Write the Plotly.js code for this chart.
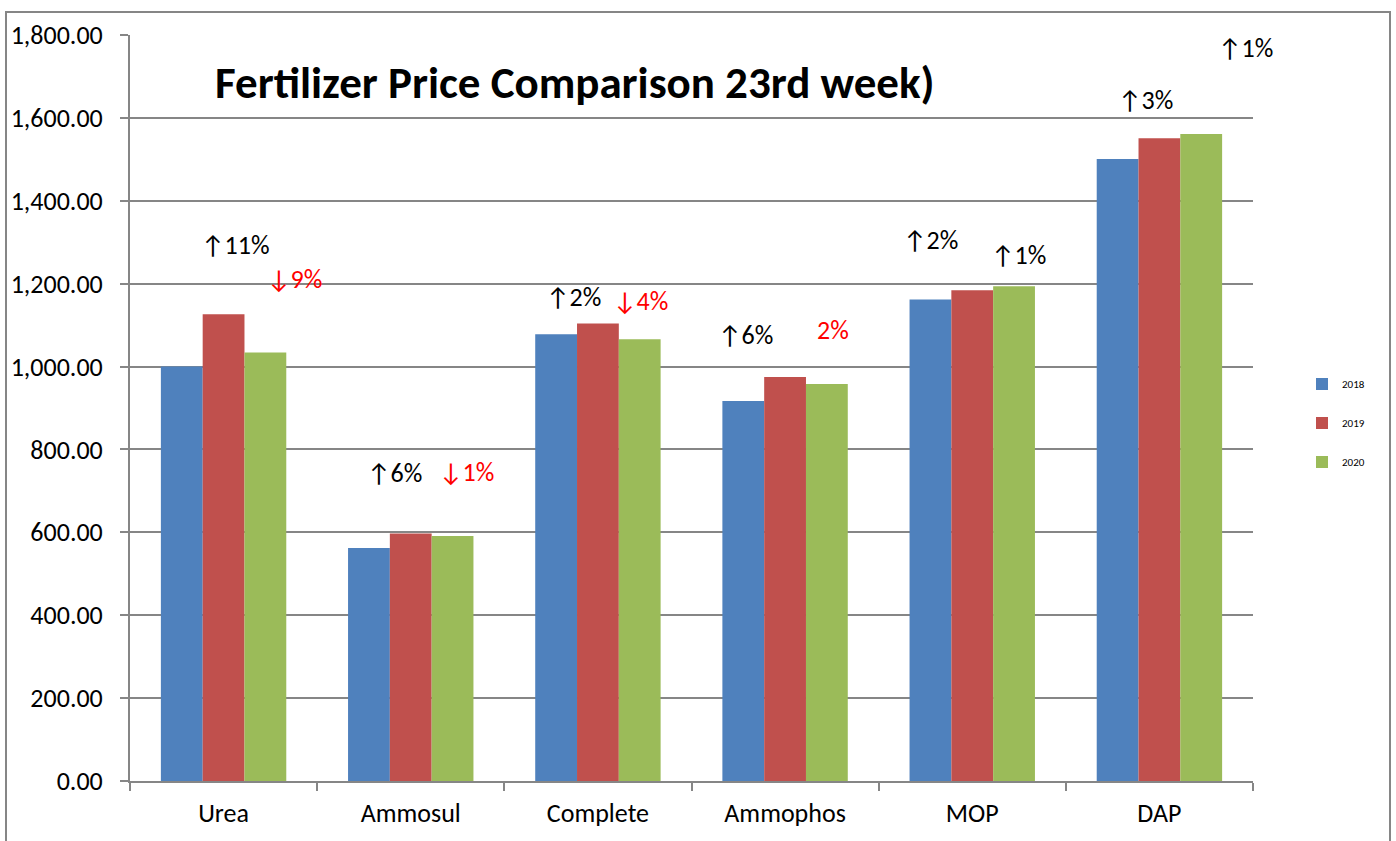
<!DOCTYPE html>
<html>
<head>
<meta charset="utf-8">
<script src="https://cdn.plot.ly/plotly-3.0.1.min.js"></script>
<style>html,body{margin:0;padding:0;background:#fff;}#chart{width:1396px;height:841px;}</style>
</head>
<body>
<div id="chart"></div>
<script>
var categories = ["Urea", "Ammosul", "Complete", "Ammophos", "MOP", "DAP"];
var seriesNames = ["2018", "2019", "2020"];
var values2018 = [1000, 562, 1078, 917, 1162, 1501];
var values2019 = [1126, 597, 1104, 975, 1184, 1551];
var values2020 = [1034, 591, 1066, 958, 1194, 1561];
var colors = ["#4F81BD", "#C0504D", "#9BBB59"];

var noteTexts = ["↑11%", "↓9%", "↑6%", "↓1%", "↑2%", "↓4%", "↑6%", "2%", "↑2%", "↑1%", "↑3%", "↑1%"];
var noteColors = ["black", "red", "black", "red", "black", "red", "black", "red", "black", "black", "black", "black"];
// pixel positions of note centres on the page
var notePx = [[235,245],[294,279],[394,473],[466,472],[573,297],[640,301],[745,335],[833,330],[930,240],[1018,255],[1145,100],[1245,48]];

var W = 1396, H = 841, L = 130, R = 143, T = 35, B = 60;
var pw = W - L - R, ph = H - T - B;
function px2x(p){ return (p - L) / pw; }
function px2y(p){ return (H - B - p) / ph; }

var font = "Carlito, Lato, 'Open Sans', sans-serif";
var allVals = [values2018, values2019, values2020];
var traces = allVals.map(function(v, i){
  return {
    type: "bar", x: categories, y: v, name: seriesNames[i],
    marker: {color: colors[i], line: {width: 0}},
    legendgroup: "g" + i,
    hoverinfo: "y"
  };
});

var annotations = noteTexts.map(function(t, i){
  return {
    xref: "paper", yref: "paper",
    x: px2x(notePx[i][0]), y: px2y(notePx[i][1]),
    xanchor: "center", yanchor: "middle",
    text: t, showarrow: false,
    font: {family: font, size: 26, color: noteColors[i]}
  };
});
annotations.push({
  xref: "paper", yref: "paper",
  x: px2x(575), y: px2y(82), xanchor: "center", yanchor: "middle",
  text: "<b>Fertilizer Price Comparison 23rd week)</b>", showarrow: false,
  font: {family: font, size: 45, color: "black"}
});

var layout = {
  width: W, height: H,
  margin: {l: L, r: R, t: T, b: B, pad: 0},
  paper_bgcolor: "#fff", plot_bgcolor: "#fff",
  font: {family: font, size: 26, color: "black"},
  barmode: "group", bargap: 0.33, bargroupgap: 0,
  showlegend: true,
  legend: {
    x: px2x(1302), y: px2y(423), xanchor: "left", yanchor: "middle",
    font: {family: font, size: 11, color: "black"},
    tracegroupgap: 20, itemwidth: 30, bgcolor: "rgba(0,0,0,0)"
  },
  xaxis: {
    type: "category", showgrid: false, showline: true, linecolor: "#868686", linewidth: 2,
    ticks: "outside", tickson: "boundaries", ticklen: 8, tickcolor: "#868686", tickwidth: 2,
    ticklabelstandoff: 8,
    tickfont: {family: font, size: 26, color: "black"}, fixedrange: true
  },
  yaxis: {
    range: [0, 1800], dtick: 200, tickformat: ",.2f",
    showgrid: true, gridcolor: "#868686", gridwidth: 2,
    showline: true, linecolor: "#868686", linewidth: 2,
    ticks: "outside", ticklen: 8, tickcolor: "#868686", tickwidth: 2,
    ticklabelstandoff: 12,
    tickfont: {family: font, size: 26, color: "black"}, zeroline: false, fixedrange: true
  },
  annotations: annotations,
  shapes: [{
    type: "rect", xref: "paper", yref: "paper",
    x0: px2x(6), x1: px2x(1390), y0: px2y(850), y1: px2y(12),
    line: {color: "#868686", width: 2}, fillcolor: "rgba(0,0,0,0)", layer: "below"
  }]
};

Plotly.newPlot("chart", traces, layout, {displayModeBar: false, staticPlot: true});
</script>
</body>
</html>
